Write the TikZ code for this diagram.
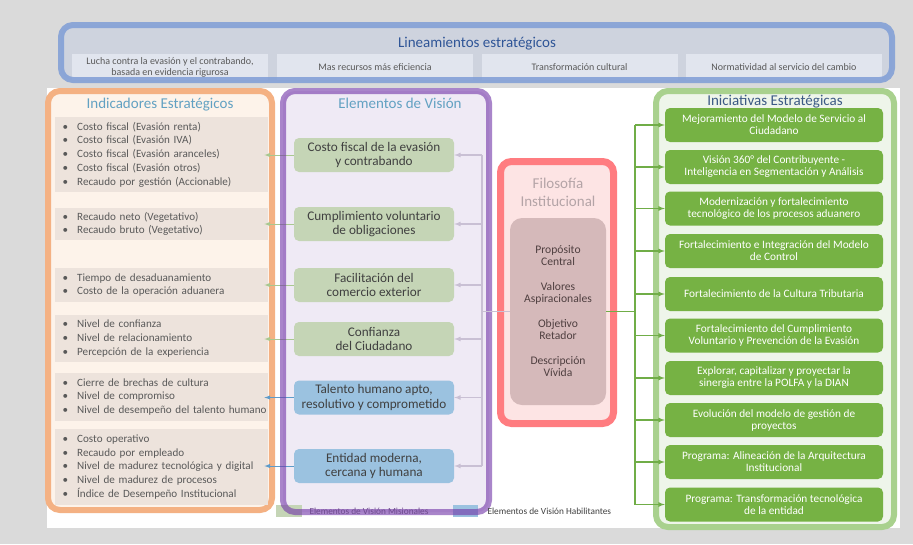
\documentclass[tikz,border=0pt]{standalone}
\usepackage{fontspec}
\setmainfont{Carlito}
\usepackage{tikz}
\usetikzlibrary{arrows}

\definecolor{bggray}{HTML}{DADADA}
\definecolor{linback}{HTML}{CED3DE}
\definecolor{linfill}{HTML}{E1E5EE}
\definecolor{linborder}{HTML}{7F9DD6}
\definecolor{linblue}{HTML}{2F5597}
\definecolor{titleblue}{HTML}{62A1C2}
\definecolor{txtgray}{HTML}{595959}
\definecolor{indborder}{HTML}{F4B183}
\definecolor{indfill}{HTML}{FDF3EA}
\definecolor{indgroupfill}{HTML}{EDE3DC}
\definecolor{visborder}{HTML}{7134A7}
\definecolor{visfill}{HTML}{EFEAF5}
\definecolor{vistext}{HTML}{404040}
\definecolor{legpurple}{HTML}{6E4A8E}
\definecolor{misgreen}{HTML}{C5D5B6}
\definecolor{habblue}{HTML}{9BC2E0}
\definecolor{visconn}{HTML}{C9C0D4}
\definecolor{misconn}{HTML}{A9C88F}
\definecolor{habconn}{HTML}{5E9BC9}
\definecolor{filoborder}{HTML}{FF7C80}
\definecolor{filofill}{HTML}{FDE4E4}
\definecolor{filotitlecol}{HTML}{B4A4A7}
\definecolor{filoinner}{HTML}{D5B9BA}
\definecolor{filotext}{HTML}{4F3F40}
\definecolor{iniborder}{HTML}{A9D18E}
\definecolor{inifill}{HTML}{EEF5EA}
\definecolor{inigreen}{HTML}{76B244}
\definecolor{iniconn}{HTML}{70AD47}
\definecolor{inititle}{HTML}{3C5A85}

\newcommand{\indbullet}{\hspace*{5pt}\makebox[14.5pt][l]{\textbullet}}

\begin{document}
\begin{tikzpicture}[x=1pt,y=-1pt,
    panel/.style={line width=6pt,rounded corners=12pt},
    paneltitle/.style={anchor=base,inner sep=0pt,font=\fontsize{15}{18}\selectfont},
    linbox/.style={fill=linfill,minimum width=196pt,minimum height=26pt,inner sep=1pt,align=center,text=txtgray,font=\fontsize{10}{11}\selectfont},
    indgroup/.style={anchor=west,fill=indgroupfill,text width=208pt,inner xsep=2.5pt,inner ysep=0pt,align=left,text=txtgray,font=\fontsize{11.1}{13.75}\selectfont},
    visbox/.style={rounded corners=5pt,minimum width=160pt,minimum height=34pt,inner sep=1pt,align=center,text=vistext,font=\fontsize{13.2}{14.5}\selectfont},
    mision/.style={visbox,fill=misgreen},
    habil/.style={visbox,fill=habblue},
    inibox/.style={rounded corners=5pt,fill=inigreen,minimum width=218pt,minimum height=34pt,inner sep=1pt,align=center,text=white,font=\fontsize{11.3}{12}\selectfont},
    visline/.style={draw=visconn,line width=1.2pt},
    visarr/.style={visline,-latex},
    misarr/.style={draw=misconn,line width=1pt,-latex,shorten >=-4pt},
    habarr/.style={draw=habconn,line width=1pt,-latex,shorten >=-4pt},
    iniline/.style={draw=iniconn,line width=1.2pt},
    iniarr/.style={iniline,-latex}]
  \useasboundingbox (0,0) rectangle (913,544);
  \fill[bggray] (0,0) rectangle (913,544);
  \fill[white] (47,88) rectangle (900,528);

  % Lineamientos
  \fill[linback,rounded corners=12pt] (61,25) rectangle (892,80);
  \node[paneltitle,text=linblue] (lintitle) at (477,47) {Lineamientos estratégicos};
  \node[linbox] (lin1) at (170,67) {Lucha contra la evasión y el contrabando,\\basada en evidencia rigurosa};
  \node[linbox] (lin2) at (375,67) {Mas recursos más eficiencia};
  \node[linbox] (lin3) at (579.5,67) {Transformación cultural};
  \node[linbox] (lin4) at (784,67) {Normatividad al servicio del cambio};
  \draw[panel,draw=linborder,draw opacity=.85] (61,25) rectangle (892,80);

  % Indicadores
  \draw[panel,draw=indborder,fill=indfill] (48,91) rectangle (272,510);
  \node[paneltitle,text=titleblue] (indtitle) at (160,108) {Indicadores Estratégicos};
  \node[indgroup,minimum height=75pt] (ind1) at (55,154.5) {\indbullet Costo fiscal (Evasión renta)\\\indbullet Costo fiscal (Evasión IVA)\\\indbullet Costo fiscal (Evasión aranceles)\\\indbullet Costo fiscal (Evasión otros)\\\indbullet Recaudo por gestión (Accionable)};
  \node[indgroup,minimum height=32pt] (ind2) at (55,224) {\indbullet Recaudo neto (Vegetativo)\\\indbullet Recaudo bruto (Vegetativo)};
  \node[indgroup,minimum height=34pt] (ind3) at (55,285) {\indbullet Tiempo de desaduanamiento\\\indbullet Costo de la operación aduanera};
  \node[indgroup,minimum height=47pt] (ind4) at (55,338.5) {\indbullet Nivel de confianza\\\indbullet Nivel de relacionamiento\\\indbullet Percepción de la experiencia};
  \node[indgroup,minimum height=48pt] (ind5) at (55,397) {\indbullet Cierre de brechas de cultura\\\indbullet Nivel de compromiso\\\indbullet \mbox{Nivel de desempeño del talento humano}};
  \node[indgroup,minimum height=76pt] (ind6) at (55,467) {\indbullet Costo operativo\\\indbullet Recaudo por empleado\\\indbullet \mbox{Nivel de madurez tecnológica y digital}\\\indbullet Nivel de madurez de procesos\\\indbullet Índice de Desempeño Institucional};

  % Elementos de vision
  \fill[visfill,rounded corners=12pt] (283,91) rectangle (489,512);
  \node[paneltitle,text=titleblue] (vistitle) at (400,108) {Elementos de Visión};
  \node[mision] (vis1) at (374,155) {Costo fiscal de la evasión\\y contrabando};
  \node[mision] (vis2) at (374,224) {Cumplimiento voluntario\\de obligaciones};
  \node[mision] (vis3) at (374,285) {Facilitación del\\comercio exterior};
  \node[mision] (vis4) at (374,339) {Confianza\\del Ciudadano};
  \node[habil] (vis5) at (374,397.5) {Talento humano apto,\\resolutivo y comprometido};
  \node[habil] (vis6) at (374,466) {Entidad moderna,\\cercana y humana};

  \draw[misarr] (vis1.west) -- (vis1.west -| ind1.east);
  \draw[misarr] (vis2.west) -- (vis2.west -| ind2.east);
  \draw[misarr] (vis3.west) -- (vis3.west -| ind3.east);
  \draw[misarr] (vis4.west) -- (vis4.west -| ind4.east);
  \draw[habarr] (vis5.west) -- (vis5.west -| ind5.east);
  \draw[habarr] (vis6.west) -- (vis6.west -| ind6.east);

  % Leyenda
  \node[fill=misgreen,minimum width=26pt,minimum height=12pt,inner sep=0pt] (legmis) at (289,511) {};
  \node[fill=habblue,minimum width=25pt,minimum height=12pt,inner sep=0pt] (leghab) at (465.5,511) {};
  \draw[panel,draw=visborder,draw opacity=.6] (283,91) rectangle (489,512);
  \node[anchor=west,text=legpurple,font=\fontsize{9.3}{11}\selectfont] (legmistext) at (306,511) {Elementos de Visión Misionales};
  \node[anchor=west,text=vistext,font=\fontsize{9.3}{11}\selectfont] (leghabtext) at (484,511) {Elementos de Visión Habilitantes};

  % Filosofia institucional
  \draw[line width=7pt,rounded corners=11pt,draw=filoborder,fill=filofill] (500.5,161.5) rectangle (613.5,423.5);
  \node[align=center,text=filotitlecol,font=\fontsize{15}{18}\selectfont] (filotitle) at (558,192) {Filosofía\\Institucional};
  \node[rounded corners=12pt,fill=filoinner,minimum width=96pt,minimum height=187pt,align=center,text=filotext,font=\fontsize{11.6}{12}\selectfont] (filo) at (558,311.5) {Propósito\\Central\\[13pt]Valores\\Aspiracionales\\[13pt]Objetivo\\Retador\\[13pt]Descripción\\Vívida};

  % Iniciativas
  \draw[panel,draw=iniborder,fill=inifill] (656,91) rectangle (894,527);
  \node[paneltitle,text=inititle] (initle) at (775,105) {Iniciativas Estratégicas};
  \node[inibox] (ini1) at (774,125) {Mejoramiento del Modelo de Servicio al\\Ciudadano};
  \node[inibox] (ini2) at (774,167) {Visión 360° del Contribuyente -\\Inteligencia en Segmentación y Análisis};
  \node[inibox] (ini3) at (774,208.5) {Modernización y fortalecimiento\\tecnológico de los procesos aduanero};
  \node[inibox] (ini4) at (774,251) {Fortalecimiento e Integración del Modelo\\de Control};
  \node[inibox] (ini5) at (774,294) {Fortalecimiento de la Cultura Tributaria};
  \node[inibox] (ini6) at (774,335.5) {Fortalecimiento del Cumplimiento\\Voluntario y Prevención de la Evasión};
  \node[inibox] (ini7) at (774,378) {Explorar, capitalizar y proyectar la\\sinergia entre la POLFA y la DIAN};
  \node[inibox] (ini8) at (774,420) {Evolución del modelo de gestión de\\proyectos};
  \node[inibox] (ini9) at (774,462) {Programa: Alineación de la Arquitectura\\Institucional};
  \node[inibox] (ini10) at (774,504.5) {Programa: Transformación tecnológica\\de la entidad};

  % Conectores desde la filosofia
  \coordinate (vtrunk) at (482,311.5);
  \coordinate (itrunk) at (635,311.5);
  \draw[visline] (filo.west) -- (vtrunk);
  \draw[visline] (vtrunk |- vis1) -- (vtrunk |- vis6);
  \draw[visarr] (vtrunk |- vis1) -- (vis1.east);
  \draw[visarr] (vtrunk |- vis2) -- (vis2.east);
  \draw[visarr] (vtrunk |- vis3) -- (vis3.east);
  \draw[visarr] (vtrunk |- vis4) -- (vis4.east);
  \draw[visarr] (vtrunk |- vis5) -- (vis5.east);
  \draw[visarr] (vtrunk |- vis6) -- (vis6.east);
  \draw[iniline] (filo.east) -- (itrunk);
  \draw[iniline] (itrunk |- ini1) -- (itrunk |- ini10);
  \draw[iniarr] (itrunk |- ini1) -- (ini1.west);
  \draw[iniarr] (itrunk |- ini2) -- (ini2.west);
  \draw[iniarr] (itrunk |- ini3) -- (ini3.west);
  \draw[iniarr] (itrunk |- ini4) -- (ini4.west);
  \draw[iniarr] (itrunk |- ini5) -- (ini5.west);
  \draw[iniarr] (itrunk |- ini6) -- (ini6.west);
  \draw[iniarr] (itrunk |- ini7) -- (ini7.west);
  \draw[iniarr] (itrunk |- ini8) -- (ini8.west);
  \draw[iniarr] (itrunk |- ini9) -- (ini9.west);
  \draw[iniarr] (itrunk |- ini10) -- (ini10.west);
\end{tikzpicture}
\end{document}
